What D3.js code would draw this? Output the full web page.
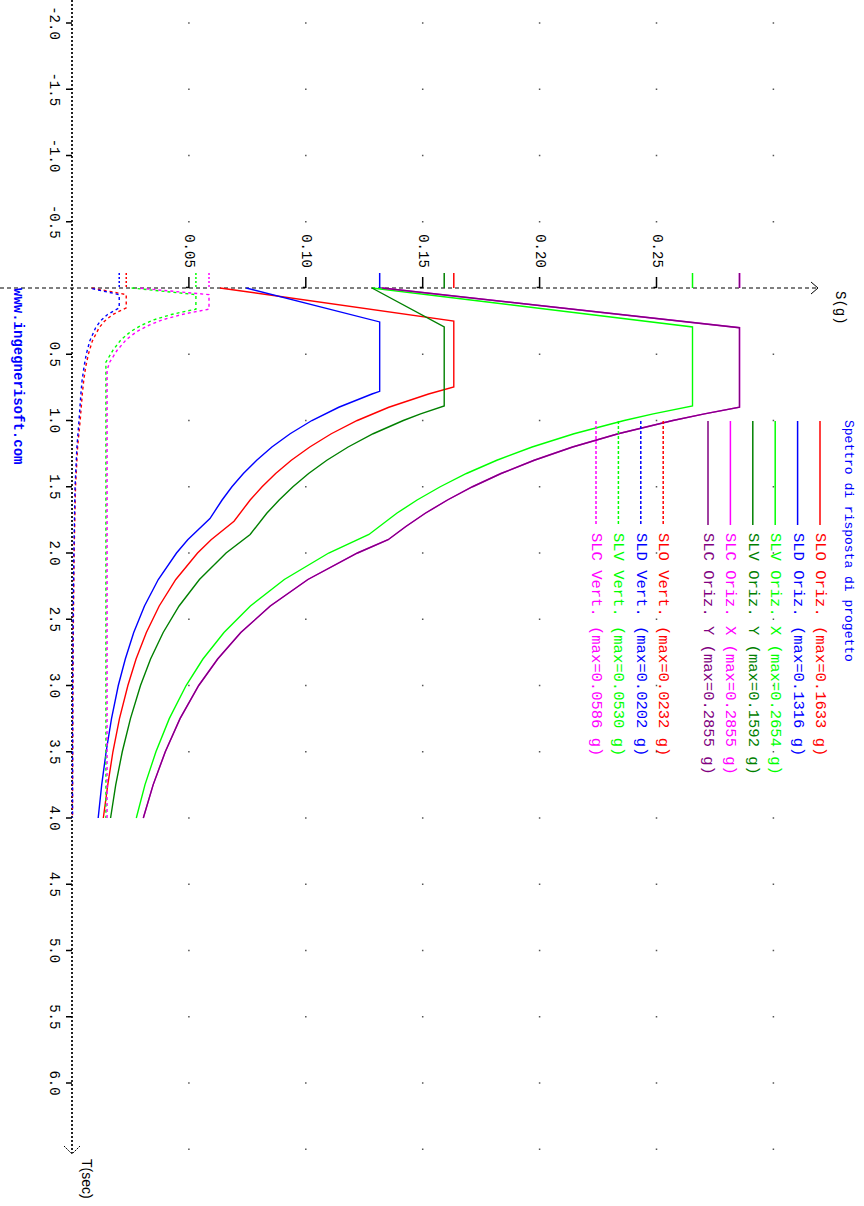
<!DOCTYPE html>
<html>
<head>
<meta charset="utf-8">
<script src="https://cdn.jsdelivr.net/npm/d3@7"></script>
<style>
  html, body { margin: 0; padding: 0; background: #fff; }
  svg { display: block; }
</style>
</head>
<body>
<svg id="chart" width="864" height="1206"></svg>
<script>
// ---- Spectra: [period T (s), Sd (g)] ----
const sloOriz = [[0,0.0633],[0.249,0.1633],[0.747,0.1633],[0.8,0.1525],[0.9,0.1355],[1.0,0.1220],[1.1,0.1109],[1.2,0.1017],[1.3,0.0938],[1.4,0.0871],[1.5,0.0813],[1.6,0.0762],[1.76,0.0693],[1.9,0.0595],[2.0,0.0537],[2.2,0.0444],[2.4,0.0373],[2.6,0.0318],[2.8,0.0274],[3.0,0.0239],[3.25,0.0203],[3.5,0.0175],[3.75,0.0153],[4.0,0.0134]];
const sldOriz = [[0,0.0745],[0.256,0.1316],[0.78,0.1316],[0.8,0.1283],[0.9,0.1141],[1.0,0.1026],[1.1,0.0933],[1.2,0.0855],[1.3,0.0790],[1.4,0.0733],[1.5,0.0684],[1.6,0.0642],[1.74,0.0590],[1.9,0.0495],[2.0,0.0447],[2.2,0.0369],[2.4,0.0310],[2.6,0.0264],[2.8,0.0228],[3.0,0.0198],[3.25,0.0169],[3.5,0.0146],[3.75,0.0127],[4.0,0.0112]];
const slvOrizX = [[0,0.1283],[0.294,0.2654],[0.89,0.2654],[0.95,0.2486],[1.0,0.2362],[1.1,0.2147],[1.2,0.1968],[1.3,0.1817],[1.4,0.1687],[1.5,0.1575],[1.6,0.1476],[1.7,0.1389],[1.86,0.1270],[2.0,0.1098],[2.2,0.0908],[2.4,0.0763],[2.6,0.0650],[2.8,0.0560],[3.0,0.0488],[3.25,0.0416],[3.5,0.0359],[3.75,0.0312],[4.0,0.0275]];
const slvOrizY = [[0,0.1283],[0.294,0.1592],[0.89,0.1592],[0.95,0.1491],[1.0,0.1417],[1.1,0.1288],[1.2,0.1181],[1.3,0.1090],[1.4,0.1012],[1.5,0.0945],[1.6,0.0886],[1.7,0.0833],[1.86,0.0762],[2.0,0.0659],[2.2,0.0545],[2.4,0.0458],[2.6,0.0390],[2.8,0.0336],[3.0,0.0293],[3.25,0.0250],[3.5,0.0215],[3.75,0.0187],[4.0,0.0165]];
const slcOrizX = [[0,0.1326],[0.30,0.2855],[0.90,0.2855],[0.95,0.2705],[1.0,0.2570],[1.1,0.2336],[1.2,0.2141],[1.3,0.1977],[1.4,0.1835],[1.5,0.1713],[1.6,0.1606],[1.7,0.1511],[1.8,0.1428],[1.9,0.1352],[2.0,0.1221],[2.2,0.1009],[2.4,0.0848],[2.6,0.0722],[2.8,0.0623],[3.0,0.0542],[3.25,0.0462],[3.5,0.0399],[3.75,0.0347],[4.0,0.0305]];
const slcOrizY = [[0,0.1326],[0.30,0.2855],[0.90,0.2855],[0.95,0.2705],[1.0,0.2570],[1.1,0.2336],[1.2,0.2141],[1.3,0.1977],[1.4,0.1835],[1.5,0.1713],[1.6,0.1606],[1.7,0.1511],[1.8,0.1428],[1.9,0.1352],[2.0,0.1221],[2.2,0.1009],[2.4,0.0848],[2.6,0.0722],[2.8,0.0623],[3.0,0.0542],[3.25,0.0462],[3.5,0.0399],[3.75,0.0347],[4.0,0.0305]];
const sloVert = [[0,0.0085],[0.05,0.0232],[0.15,0.0232],[0.2,0.0174],[0.25,0.0139],[0.3,0.0116],[0.4,0.0087],[0.5,0.0070],[0.6,0.0058],[0.7,0.0050],[0.8,0.0044],[1.0,0.0035],[1.2,0.0024],[1.5,0.0015],[2.0,0.0009],[2.5,0.0006],[3.0,0.0004],[4.0,0.0002]];
const sldVert = [[0,0.0074],[0.05,0.0202],[0.15,0.0202],[0.2,0.0152],[0.25,0.0121],[0.3,0.0101],[0.4,0.0076],[0.5,0.0061],[0.6,0.0051],[0.7,0.0043],[0.8,0.0038],[1.0,0.0030],[1.2,0.0021],[1.5,0.0013],[2.0,0.0008],[2.5,0.0005],[3.0,0.0003],[4.0,0.0002]];
const slvVert = [[0,0.0255],[0.05,0.0530],[0.16,0.0530],[0.18,0.0475],[0.2,0.0425],[0.24,0.0350],[0.28,0.0298],[0.33,0.0250],[0.39,0.0210],[0.47,0.0175],[0.56,0.0145],[4.0,0.0145]];
const slcVert = [[0,0.0280],[0.05,0.0586],[0.16,0.0586],[0.18,0.0525],[0.2,0.0470],[0.24,0.0387],[0.28,0.0330],[0.33,0.0276],[0.39,0.0232],[0.47,0.0193],[0.56,0.0161],[0.62,0.0150],[4.0,0.0150]];

const seriesNames = ["SLO Oriz.", "SLD Oriz.", "SLV Oriz. X", "SLV Oriz. Y", "SLC Oriz. X", "SLC Oriz. Y",
                     "SLO Vert.", "SLD Vert.", "SLV Vert.", "SLC Vert."];
const seriesData = [sloOriz, sldOriz, slvOrizX, slvOrizY, slcOrizX, slcOrizY, sloVert, sldVert, slvVert, slcVert];
const seriesColors = ["#ff0000", "#0000ff", "#00ff00", "#008000", "#ff00ff", "#800080",
                      "#ff0000", "#0000ff", "#00ff00", "#ff00ff"];
const seriesDotted = [false, false, false, false, false, false, true, true, true, true];

// ---- Axis ticks ----
const sTicks = [0.05, 0.10, 0.15, 0.20, 0.25];
const tTicks = [-2.0, -1.5, -1.0, -0.5, 0.5, 1.0, 1.5, 2.0, 2.5, 3.0, 3.5, 4.0, 4.5, 5.0, 5.5, 6.0];
const sGrid = [0.05, 0.10, 0.15, 0.20, 0.25, 0.30];
const tGrid = [-2.0, -1.5, -1.0, -0.5, 0.5, 1.0, 1.5, 2.0, 2.5, 3.0, 3.5, 4.0, 4.5, 5.0, 5.5, 6.0, 6.5];

const titleText = "Spettro di risposta di progetto";
const urlText = "www.ingegnerisoft.com";

// ---- Drawing (T runs down the page, S runs to the right) ----
const svg = d3.select("#chart");
const mono = "'Liberation Mono', 'DejaVu Sans Mono', monospace";

const sx = d3.scaleLinear().domain([0, 0.30]).range([72, 72 + 0.30 * 2338]);
const ty = d3.scaleLinear().domain([0, 4]).range([288, 818]);

const rot = (x, y) => `translate(${x},${y}) rotate(90)`;

// grid dots
const dots = svg.append("g").attr("fill", "#555");
sGrid.forEach(s => tGrid.forEach(t => {
  dots.append("rect").attr("x", sx(s) - 0.75).attr("y", ty(t) - 0.75)
    .attr("width", 1.5).attr("height", 1.5);
}));

// S axis (dashed, with arrow)
svg.append("line").attr("x1", 0).attr("x2", 817).attr("y1", ty(0)).attr("y2", ty(0))
  .attr("stroke", "#000").attr("stroke-width", 1.2).attr("stroke-dasharray", "4,3");
svg.append("path").attr("d", `M811,${ty(0) - 6}L818,${ty(0)}L811,${ty(0) + 6}`)
  .attr("fill", "none").attr("stroke", "#000").attr("stroke-width", 1);

// T axis (dotted, with arrow)
svg.append("line").attr("x1", sx(0)).attr("x2", sx(0)).attr("y1", 0).attr("y2", 1153)
  .attr("stroke", "#222").attr("stroke-width", 2).attr("stroke-dasharray", "2,2");
svg.append("path").attr("d", `M${sx(0) - 8},1146L${sx(0)},1154L${sx(0) + 8},1146`)
  .attr("fill", "none").attr("stroke", "#000").attr("stroke-width", 1).attr("stroke-dasharray", "2,1");

// S ticks and labels
sTicks.forEach(s => {
  svg.append("line").attr("x1", sx(s)).attr("x2", sx(s)).attr("y1", ty(0) - 11).attr("y2", ty(0))
    .attr("stroke", "#000").attr("stroke-width", 1.5);
  svg.append("line").attr("x1", sx(s) - 3).attr("x2", sx(s)).attr("y1", ty(0) - 0.5).attr("y2", ty(0) - 0.5)
    .attr("stroke", "#000").attr("stroke-width", 1.5);
  svg.append("text").attr("transform", rot(sx(s), 251))
    .attr("text-anchor", "middle").attr("dominant-baseline", "central")
    .attr("font-family", mono).attr("font-size", 14).attr("fill", "#000")
    .text(s.toFixed(2));
});

// T ticks and labels
tTicks.forEach(t => {
  svg.append("line").attr("x1", sx(0) - 6).attr("x2", sx(0)).attr("y1", ty(t)).attr("y2", ty(t))
    .attr("stroke", "#000").attr("stroke-width", 1.5);
  svg.append("text").attr("transform", rot(54, ty(t)))
    .attr("text-anchor", "middle").attr("dominant-baseline", "central")
    .attr("font-family", mono).attr("font-size", 14).attr("fill", "#000")
    .text(t.toFixed(1));
});

// axis titles
svg.append("text").attr("transform", rot(840, 291)).attr("dominant-baseline", "central")
  .attr("font-family", mono).attr("font-size", 14).attr("fill", "#000").text("S(g)");
svg.append("text").attr("transform", rot(87, 1159)).attr("dominant-baseline", "central")
  .attr("font-family", "'Liberation Sans', Arial, sans-serif").attr("font-size", 14).attr("fill", "#000").text("T(sec)");

// spectra curves
const line = d3.line().x(d => sx(d[1])).y(d => ty(d[0]));
const dashFor = i => seriesDotted[i] ? "3,3" : null;
const dashOffset = i => (i % 2 === 1 ? 3 : 0);

seriesData.forEach((data, i) => {
  svg.append("path").datum(data).attr("d", line)
    .attr("fill", "none").attr("stroke", seriesColors[i]).attr("stroke-width", 1.4)
    .attr("stroke-dasharray", dashFor(i)).attr("stroke-dashoffset", dashOffset(i));
  // maximum marker on the S axis
  const maxVal = d3.max(data, d => d[1]);
  svg.append("line").attr("x1", sx(maxVal)).attr("x2", sx(maxVal))
    .attr("y1", ty(0) - 15).attr("y2", ty(0))
    .attr("stroke", seriesColors[i]).attr("stroke-width", 1.5)
    .attr("stroke-dasharray", seriesDotted[i] ? "2,2" : null);
});

// title and legend
svg.append("text").attr("transform", rot(848, 420)).attr("dominant-baseline", "central")
  .attr("font-family", mono).attr("font-size", 13).attr("fill", "#0000ff").text(titleText);

const legX = k => 820 - k * 22.4;
seriesData.forEach((data, i) => {
  const k = i < 6 ? i : i + 1;
  const x = legX(k);
  const maxVal = d3.max(data, d => d[1]);
  svg.append("line").attr("x1", x).attr("x2", x).attr("y1", 421).attr("y2", 525)
    .attr("stroke", seriesColors[i]).attr("stroke-width", 1.5)
    .attr("stroke-dasharray", seriesDotted[i] ? "3,2" : null);
  svg.append("text").attr("transform", rot(x, 533)).attr("dominant-baseline", "central")
    .attr("font-family", mono).attr("font-size", 15.5).attr("fill", seriesColors[i])
    .text(`${seriesNames[i]} (max=${maxVal.toFixed(4)} g)`);
});

// site address
svg.append("text").attr("transform", rot(18, 288)).attr("dominant-baseline", "central")
  .attr("font-family", mono).attr("font-size", 14).attr("font-weight", "bold")
  .attr("fill", "#0000ff").text(urlText);
</script>
</body>
</html>
